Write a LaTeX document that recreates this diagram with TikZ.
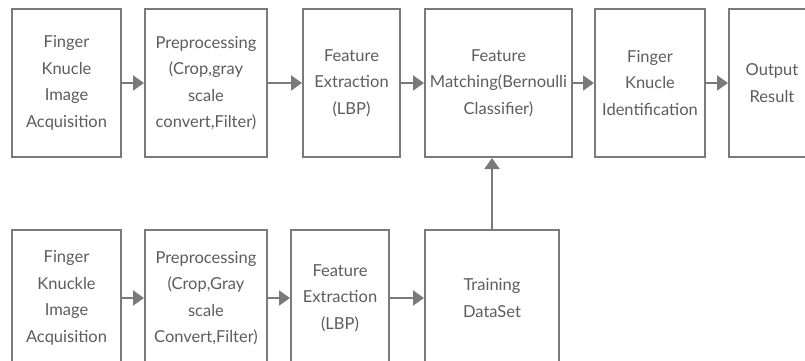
\documentclass[tikz,border=0pt]{standalone}
\usepackage{fontspec}
\setmainfont{Lato}
\usetikzlibrary{arrows.meta}
\definecolor{boxgray}{HTML}{7A7A7A}
\definecolor{textgray}{HTML}{5C5C5C}

\begin{document}
\begin{tikzpicture}[x=1pt, y=-1pt, line width=2pt,
    blk/.style={draw=boxgray, text=textgray, align=center, inner sep=0pt,
      font=\fontsize{16.5}{26.5}\selectfont},
    link/.style={draw=boxgray, -{Triangle[length=11pt,width=15pt]}}]
  \useasboundingbox (0,0) rectangle (805,360);
  \clip (0,0) rectangle (805,360);
  % top row
  \node[blk, minimum width=109pt, minimum height=148pt] (acq) at (66.5,83) {Finger\\Knucle\\Image\\Acquisition};
  \node[blk, minimum width=122pt, minimum height=148pt] (prep) at (206,83) {Preprocessing\\(Crop,gray\\scale\\convert,Filter)};
  \node[blk, minimum width=97pt, minimum height=148pt] (feat) at (351.5,83) {Feature\\Extraction\\(LBP)};
  \node[blk, minimum width=147pt, minimum height=148pt] (match) at (498.5,83) {Feature\\Matching(Bernoulli\\Classifier)};
  \node[blk, minimum width=110pt, minimum height=148pt] (ident) at (650,83) {Finger\\Knucle\\Identification};
  \node[blk, minimum width=86pt, minimum height=148pt] (res) at (772,83) {Output\\Result};
  % bottom row
  \node[blk, minimum width=109pt, minimum height=136pt] (tacq) at (66.5,298) {Finger\\Knuckle\\Image\\Acquisition};
  \node[blk, minimum width=122pt, minimum height=136pt] (tprep) at (206,298) {Preprocessing\\(Crop,Gray\\scale\\Convert,Filter)};
  \node[blk, minimum width=98pt, minimum height=136pt] (tfeat) at (340,298) {Feature\\Extraction\\(LBP)};
  \node[blk, minimum width=134pt, minimum height=136pt] (trn) at (492,298) {Training\\DataSet};
  % connectors
  \draw[link] (acq) -- (prep);
  \draw[link] (prep) -- (feat);
  \draw[link] (feat) -- (match);
  \draw[link] (match) -- (ident);
  \draw[link] (ident) -- (res);
  \draw[link] (tacq) -- (tprep);
  \draw[link] (tprep) -- (tfeat);
  \draw[link] (tfeat) -- (trn);
  \draw[link] (trn.north) -- (trn.north |- match.south);
\end{tikzpicture}
\end{document}
